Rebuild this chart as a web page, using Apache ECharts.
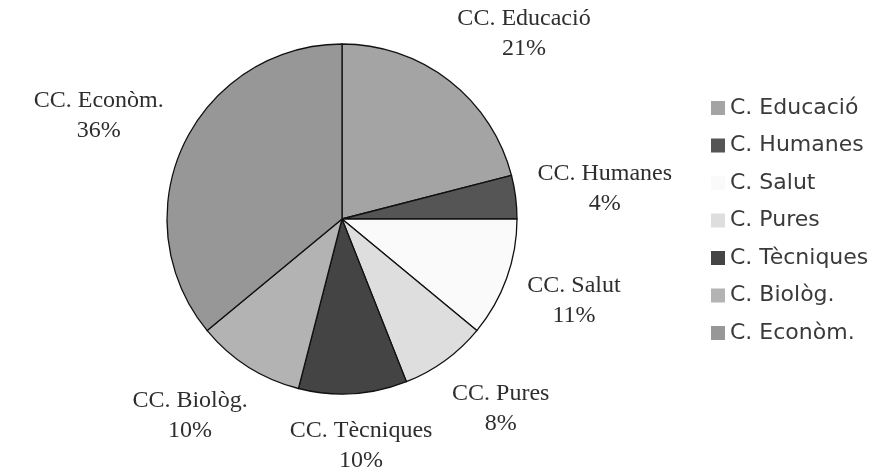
<!DOCTYPE html>
<html>
<head>
<meta charset="utf-8">
<script src="https://cdn.jsdelivr.net/npm/echarts@6/dist/echarts.min.js"></script>
<style>html,body{margin:0;padding:0;background:#fff}#c{width:880px;height:468px}</style>
</head>
<body>
<div id="c"></div>
<script>
const legendNames = ['C. Educació','C. Humanes','C. Salut','C. Pures','C. Tècniques','C. Biològ.','C. Econòm.'];
const labelNames = ['CC. Educació','CC. Humanes','CC. Salut','CC. Pures','CC. Tècniques','CC. Biològ.','CC. Econòm.'];
const values = [21, 4, 11, 8, 10, 10, 36];
const colors = ['#a4a4a4','#555555','#fafafa','#dedede','#444444','#b3b3b3','#979797'];

const CX = 342, CY = 219, R = 175;
const LABEL_GAP = 22;
const total = values.reduce((a,b)=>a+b,0);
function midAngle(i){
  let s = 0;
  for (let k = 0; k < i; k++) s += values[k];
  return (s + values[i]/2) / total * Math.PI * 2;
}
const clamp = v => Math.max(-1, Math.min(1, v));

const chart = echarts.init(document.getElementById('c'), null, {renderer:'canvas'});
chart.setOption({
  backgroundColor:'#fff',
  animation:false,
  color: colors,
  legend:{
    orient:'vertical', left:706, top:91,
    icon:'rect', itemWidth:14, itemHeight:14, itemGap:13.5,
    itemStyle:{borderWidth:0},
    textStyle:{fontFamily:'DejaVu Sans', fontSize:22, color:'#3a3a3a', lineHeight:24},
    data: legendNames
  },
  series:[{
    type:'pie',
    center:[CX,CY],
    radius:R,
    startAngle:90,
    clockwise:true,
    avoidLabelOverlap:false,
    itemStyle:{borderColor:'#111', borderWidth:1.3},
    label:{
      show:true, position:'outside',
      fontFamily:'Liberation Serif', fontSize:24, color:'#2e2e2e', lineHeight:30,
      formatter: p => labelNames[p.dataIndex] + '\n' + p.value + '%'
    },
    labelLine:{show:false},
    labelLayout: p => {
      const a = midAngle(p.dataIndex);
      const dx = Math.sin(a), dy = -Math.cos(a);
      const w = p.labelRect.width, h = p.labelRect.height;
      const r2 = R + LABEL_GAP;
      return {
        x: CX + r2 * dx + clamp(1.5 * dx) * w / 2,
        y: CY + r2 * dy + clamp(1.5 * dy) * h / 2,
        align:'center', verticalAlign:'middle'
      };
    },
    emphasis:{disabled:true},
    data: legendNames.map((n,i)=>({name:n, value:values[i]}))
  }]
});
</script>
</body>
</html>
